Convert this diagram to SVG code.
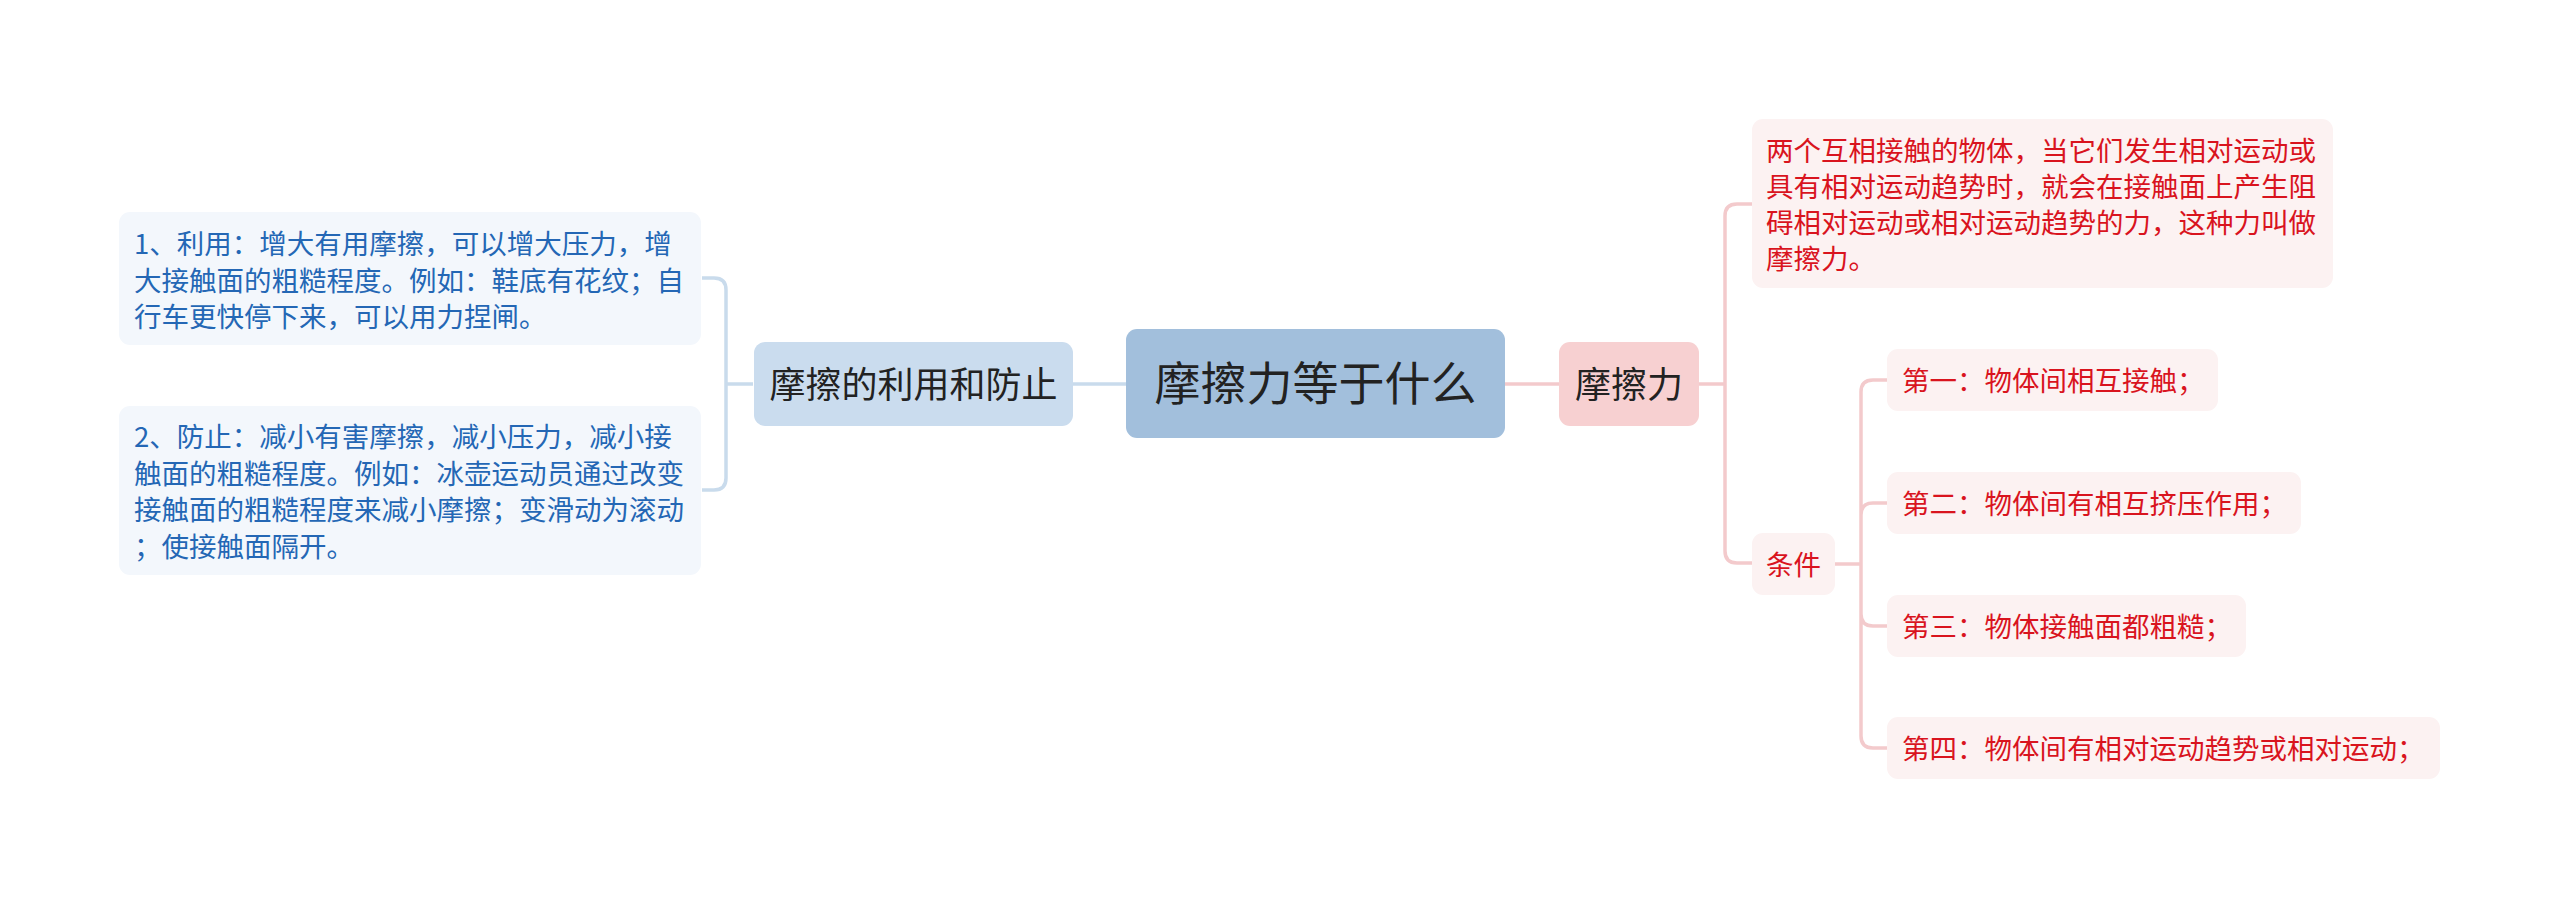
<svg xmlns="http://www.w3.org/2000/svg" width="2560" height="899" viewBox="0 0 2560 899">
<style>
text{font-family:"Noto Sans CJK SC","Noto Sans",sans-serif;}
.lineB{fill:none;stroke:#c9dbec;stroke-width:3.5;}
.lineR{fill:none;stroke:#f3cacc;stroke-width:3.5;}
.leafB{fill:#f3f7fc;}
.leafR{fill:#fcf2f2;}
.tB{font-size:27.5px;fill:#2467b5;}
.tR{font-size:27.5px;fill:#d9141e;}
.t1{font-size:36px;fill:#222;text-anchor:middle;}
</style>
<rect width="2560" height="899" fill="#ffffff"/>
<g id="connectors">
<path class="lineB" d="M1073 384H1126"/>
<path class="lineR" d="M1505 384H1559"/>
<path class="lineB" d="M753 384H726M702 278H714Q726 278 726 290V478Q726 490 714 490H702"/>
<path class="lineR" d="M1699 384H1725M1752 204H1737Q1725 204 1725 216V551Q1725 563 1737 563H1752"/>
<path class="lineR" d="M1835 564H1861M1887 380H1873Q1861 380 1861 392V736Q1861 748 1873 748H1887M1887 503H1873Q1861 503 1861 515M1887 626H1873Q1861 626 1861 614"/>
</g>
<g id="center">
<rect x="1126" y="329" width="379" height="109" rx="11" fill="#a2bfdc"/>
<text x="1315.5" y="400" style="font-size:46px;fill:#222;text-anchor:middle">摩擦力等于什么</text>
</g>
<g id="left-main">
<rect x="754" y="342" width="319" height="84" rx="11" fill="#cadcee"/>
<text class="t1" x="913.5" y="397.5">摩擦的利用和防止</text>
</g>
<g id="left-leaf-1">
<rect class="leafB" x="119" y="212" width="582" height="133" rx="11"/>
<text class="tB" x="134" y="254">1、利用：增大有用摩擦，可以增大压力，增</text>
<text class="tB" x="134" y="290.5">大接触面的粗糙程度。例如：鞋底有花纹；自</text>
<text class="tB" x="134" y="327">行车更快停下来，可以用力捏闸。</text>
</g>
<g id="left-leaf-2">
<rect class="leafB" x="119" y="406" width="582" height="169" rx="11"/>
<text class="tB" x="134" y="447">2、防止：减小有害摩擦，减小压力，减小接</text>
<text class="tB" x="134" y="483.5">触面的粗糙程度。例如：冰壶运动员通过改变</text>
<text class="tB" x="134" y="520">接触面的粗糙程度来减小摩擦；变滑动为滚动</text>
<text class="tB" x="134" y="556.5">；使接触面隔开。</text>
</g>
<g id="right-main">
<rect x="1559" y="342" width="140" height="84" rx="11" fill="#f7d0d1"/>
<text class="t1" x="1629" y="397.5">摩擦力</text>
</g>
<g id="definition">
<rect class="leafR" x="1752" y="119" width="581" height="169" rx="11"/>
<text class="tR" x="1766" y="161">两个互相接触的物体，当它们发生相对运动或</text>
<text class="tR" x="1766" y="197">具有相对运动趋势时，就会在接触面上产生阻</text>
<text class="tR" x="1766" y="233">碍相对运动或相对运动趋势的力，这种力叫做</text>
<text class="tR" x="1766" y="269">摩擦力。</text>
</g>
<g id="conditions">
<rect class="leafR" x="1752" y="533" width="83" height="62" rx="11"/>
<text class="tR" x="1766" y="574.5">条件</text>
</g>
<g id="cond-1">
<rect class="leafR" x="1887" y="349" width="331" height="62" rx="11"/>
<text class="tR" x="1902" y="390.5">第一：物体间相互接触；</text>
</g>
<g id="cond-2">
<rect class="leafR" x="1887" y="472" width="414" height="62" rx="11"/>
<text class="tR" x="1902" y="513.5">第二：物体间有相互挤压作用；</text>
</g>
<g id="cond-3">
<rect class="leafR" x="1887" y="595" width="359" height="62" rx="11"/>
<text class="tR" x="1902" y="636.5">第三：物体接触面都粗糙；</text>
</g>
<g id="cond-4">
<rect class="leafR" x="1887" y="717" width="553" height="62" rx="11"/>
<text class="tR" x="1902" y="758.5">第四：物体间有相对运动趋势或相对运动；</text>
</g>
</svg>
